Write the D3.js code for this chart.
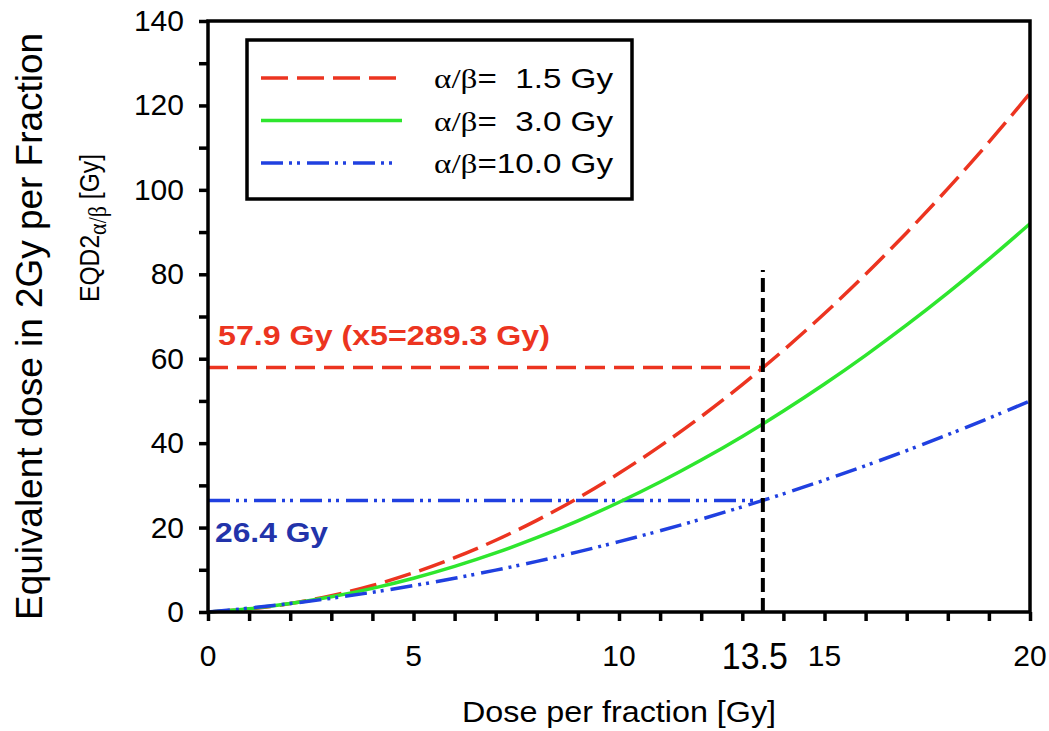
<!DOCTYPE html>
<html>
<head>
<meta charset="utf-8">
<script src="https://cdn.jsdelivr.net/npm/d3@7"></script>
<style>
  body { margin: 0; background: #fff; }
  text { font-family: "Liberation Sans", Arial, sans-serif; }
</style>
</head>
<body>
<svg id="chart" width="1049" height="731"></svg>
<script>
// dose per fraction [Gy]
var doses = [0, 1, 2, 3, 4, 5, 6, 7, 8, 9, 10, 11, 12, 13, 14, 15, 16, 17, 18, 19, 20];
// EQD2 [Gy]
var eqdAb15 = [0, 0.71, 2.0, 3.86, 6.29, 9.29, 12.86, 17.0, 21.71, 27.0, 32.86, 39.29, 46.29, 53.86, 62.0, 70.71, 80.0, 89.86, 100.29, 111.29, 122.86];
var eqdAb30 = [0, 0.8, 2.0, 3.6, 5.6, 8.0, 10.8, 14.0, 17.6, 21.6, 26.0, 30.8, 36.0, 41.6, 47.6, 54.0, 60.8, 68.0, 75.6, 83.6, 92.0];
var eqdAb100 = [0, 0.92, 2.0, 3.25, 4.67, 6.25, 8.0, 9.92, 12.0, 14.25, 16.67, 19.25, 22.0, 24.92, 28.0, 31.25, 34.67, 38.25, 42.0, 45.92, 50.0];

var legendLabels = ["1.5 Gy", "3.0 Gy", "10.0 Gy"];
var legendPrefix = ["\u03b1/\u03b2=  ", "\u03b1/\u03b2=  ", "\u03b1/\u03b2="];

var markDose = 13.5;
var markTop = 81;
var markValues = [57.9, 26.4];
var markLabels = ["57.9 Gy (x5=289.3 Gy)", "26.4 Gy"];

var xTickLabels = [0, 5, 10, 15, 20];
var yTickLabels = [0, 20, 40, 60, 80, 100, 120, 140];

var svg = d3.select("#chart");
var pLeft = 208, pRight = 1030, pTop = 21, pBottom = 612;

var x = d3.scaleLinear().domain([0, 20]).range([pLeft, pRight]);
var y = d3.scaleLinear().domain([0, 140]).range([pBottom, pTop]);

var RED = "#ec3420", GREEN = "#2ee62e", BLUE = "#2040e0";

var series = [
    {vals: eqdAb15, color: RED, dash: "27,9"},
    {vals: eqdAb30, color: GREEN, dash: null},
    {vals: eqdAb100, color: BLUE, dash: "22,6,3,5,3,7"}
];

var line = d3.line()
    .x(function(d) { return x(d[0]); })
    .y(function(d) { return y(d[1]); })
    .curve(d3.curveMonotoneX);

// reference lines
svg.append("line")
    .attr("x1", x(0)).attr("x2", x(markDose))
    .attr("y1", y(markValues[0])).attr("y2", y(markValues[0]))
    .attr("stroke", RED).attr("stroke-width", 3.5).attr("stroke-dasharray", "20,9");
svg.append("line")
    .attr("x1", x(0)).attr("x2", x(markDose))
    .attr("y1", y(markValues[1])).attr("y2", y(markValues[1]))
    .attr("stroke", BLUE).attr("stroke-width", 3.5).attr("stroke-dasharray", "22,6,3,5,3,7");

series.forEach(function(s) {
    svg.append("path")
        .datum(doses.map(function(d, i) { return [d, s.vals[i]]; }))
        .attr("d", line)
        .attr("fill", "none")
        .attr("stroke", s.color)
        .attr("stroke-width", 3.5)
        .attr("stroke-dasharray", s.dash);
});

svg.append("line")
    .attr("x1", x(markDose)).attr("x2", x(markDose))
    .attr("y1", y(0)).attr("y2", y(markTop))
    .attr("stroke", "#000").attr("stroke-width", 4).attr("stroke-dasharray", "14,6");

// axes
var xAxis = d3.axisBottom(x).tickValues(d3.range(0, 21, 1)).tickSize(9).tickFormat("");
var yAxis = d3.axisLeft(y).tickValues(d3.range(0, 141, 10)).tickSize(9).tickFormat("");

svg.append("g").attr("transform", "translate(0," + pBottom + ")").call(xAxis)
    .call(function(g) { g.select(".domain").remove(); })
    .selectAll("line").attr("stroke-width", 3.5);
svg.append("g").attr("transform", "translate(" + pLeft + ",0)").call(yAxis)
    .call(function(g) { g.select(".domain").remove(); })
    .selectAll("line").attr("stroke-width", 3.5);

svg.append("rect")
    .attr("x", pLeft).attr("y", pTop)
    .attr("width", pRight - pLeft).attr("height", pBottom - pTop)
    .attr("fill", "none").attr("stroke", "#000").attr("stroke-width", 3.5);

function label(px, py, str, opts) {
    var t = svg.append("text")
        .attr("x", px).attr("y", py)
        .attr("font-size", opts.size)
        .attr("text-anchor", opts.anchor || "start")
        .attr("fill", opts.color || "#000")
        .attr("font-weight", opts.bold ? "bold" : null)
        .text(str);
    if (opts.len) t.attr("textLength", opts.len).attr("lengthAdjust", "spacingAndGlyphs");
    return t;
}

xTickLabels.forEach(function(v) {
    label(x(v), 666, v, {size: 30, anchor: "middle"});
});
label(x(markDose) - 8, 669, "13.5", {size: 36, anchor: "middle", len: 66});

yTickLabels.forEach(function(v) {
    label(184, y(v) + 10, v, {size: 30, anchor: "end"});
});

label(462, 722, "Dose per fraction [Gy]", {size: 29, len: 314});

// y titles
svg.append("text")
    .attr("transform", "translate(42,620) rotate(-90)")
    .attr("font-size", 36)
    .attr("textLength", 587).attr("lengthAdjust", "spacingAndGlyphs")
    .text("Equivalent dose in 2Gy per Fraction");

var eqd = svg.append("text")
    .attr("transform", "translate(99,302) rotate(-90)")
    .attr("font-size", 28)
    .attr("textLength", 148).attr("lengthAdjust", "spacingAndGlyphs");
eqd.append("tspan").text("EQD2");
eqd.append("tspan").attr("font-family", "Liberation Serif, serif").attr("font-size", 25)
    .attr("dy", 7).text("\u03b1/\u03b2");
eqd.append("tspan").attr("dy", -7).text(" [Gy]");

// annotations
label(218, 345, markLabels[0], {size: 28, bold: true, color: RED, len: 332});
label(215, 542, markLabels[1], {size: 28, bold: true, color: "#2233aa", len: 113});

// legend
svg.append("rect")
    .attr("x", 247).attr("y", 40).attr("width", 385).attr("height", 159)
    .attr("fill", "#fff").attr("stroke", "#000").attr("stroke-width", 3.5);

series.forEach(function(s, i) {
    var ly = 78 + i * 42.5;
    svg.append("line")
        .attr("x1", 261).attr("x2", i == 2 ? 395 : 402)
        .attr("y1", ly).attr("y2", ly)
        .attr("stroke", s.color).attr("stroke-width", 3.5)
        .attr("stroke-dasharray", s.dash);
    var t = svg.append("text").attr("x", 434).attr("y", ly + 10).attr("font-size", 28)
        .attr("xml:space", "preserve")
        .attr("textLength", 179).attr("lengthAdjust", "spacingAndGlyphs");
    t.append("tspan").attr("font-family", "Liberation Serif, serif").text(legendPrefix[i].slice(0, 3));
    t.append("tspan").text(legendPrefix[i].slice(3) + legendLabels[i]);
});
</script>
</body>
</html>
